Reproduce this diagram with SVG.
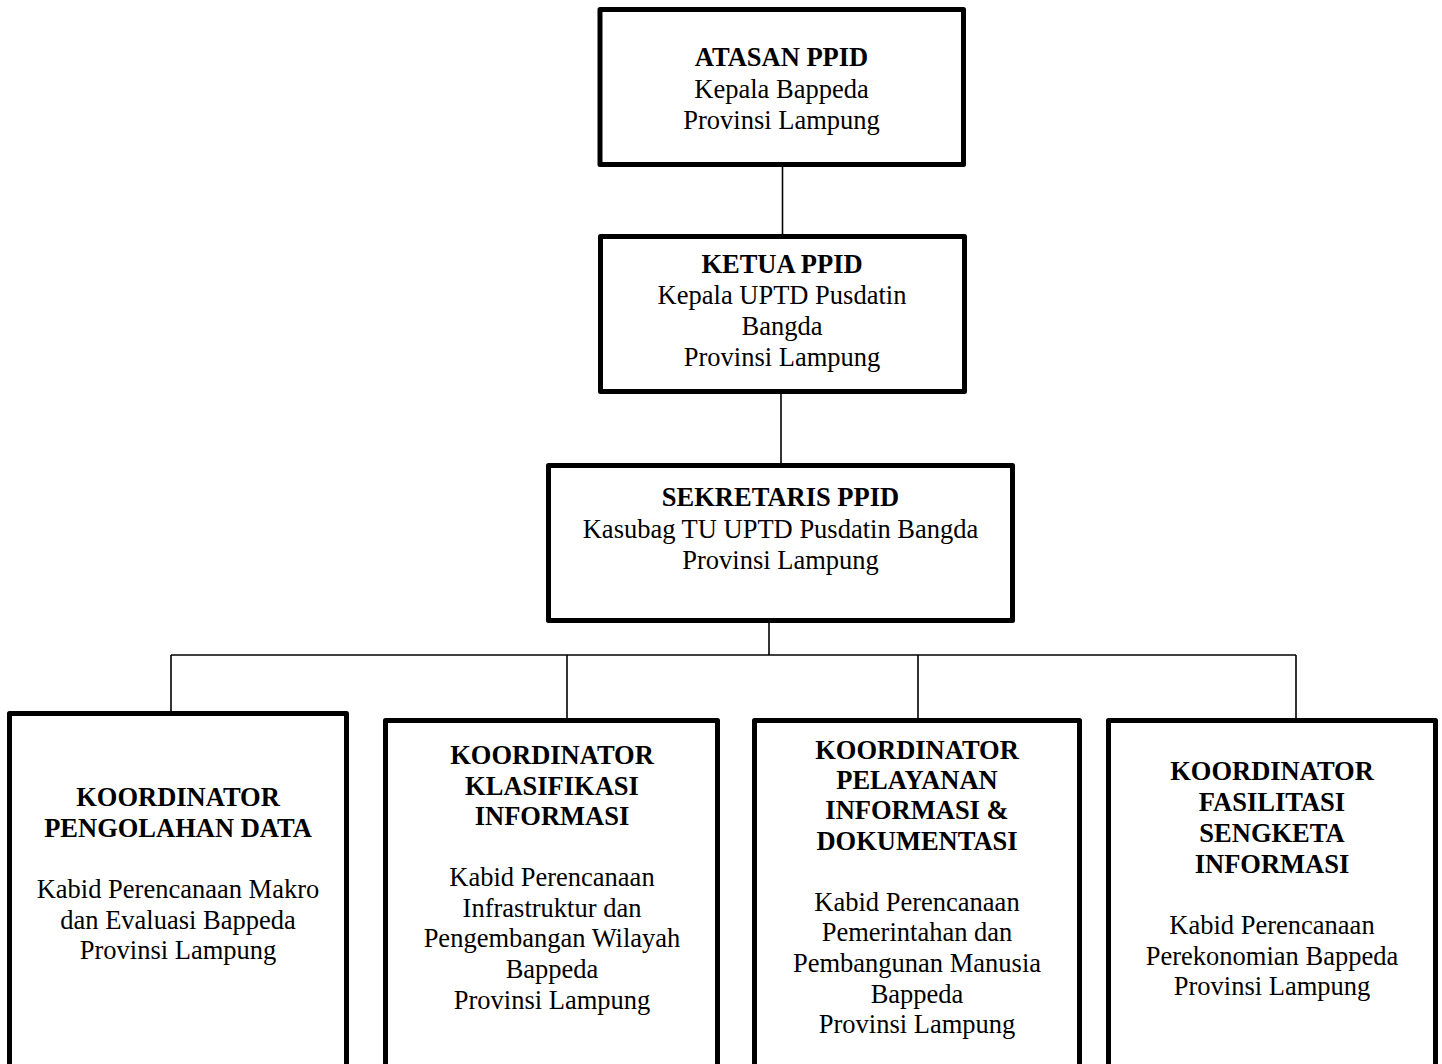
<svg xmlns="http://www.w3.org/2000/svg" width="1442" height="1064" viewBox="0 0 1442 1064">
<style>
.box{fill:#fff;stroke:#000;stroke-width:5;stroke-linejoin:round}
.ln{stroke:#000;stroke-width:1.6;fill:none}
text{font-family:"Liberation Serif","Times New Roman",serif;font-size:26.5px;fill:#000;text-anchor:middle}
.b{font-weight:bold}
</style>
<rect width="1442" height="1064" fill="#fff"/>
<g id="connectors">
<line class="ln" x1="782.5" y1="166" x2="782.5" y2="235"/>
<line class="ln" x1="781" y1="393" x2="781" y2="464"/>
<line class="ln" x1="769" y1="622" x2="769" y2="655"/>
<line class="ln" x1="171" y1="655" x2="1296" y2="655"/>
<line class="ln" x1="171" y1="655" x2="171" y2="712"/>
<line class="ln" x1="567" y1="655" x2="567" y2="719"/>
<line class="ln" x1="918" y1="655" x2="918" y2="719"/>
<line class="ln" x1="1296" y1="655" x2="1296" y2="719"/>
</g>
<g id="atasan">
<rect class="box" x="600" y="9.5" width="363.5" height="155"/>
<text class="b" x="781.5" y="66">ATASAN PPID</text>
<text x="781.5" y="97.5">Kepala Bappeda</text>
<text x="781.5" y="129">Provinsi Lampung</text>
</g>
<g id="ketua">
<rect class="box" x="600.5" y="236.5" width="364" height="155"/>
<text class="b" x="782" y="273">KETUA PPID</text>
<text x="782" y="303.5">Kepala UPTD Pusdatin</text>
<text x="782" y="334.5">Bangda</text>
<text x="782" y="365.5">Provinsi Lampung</text>
</g>
<g id="sekretaris">
<rect class="box" x="548.5" y="465.5" width="464" height="155"/>
<text class="b" x="780.5" y="506">SEKRETARIS PPID</text>
<text x="780.5" y="538">Kasubag TU UPTD Pusdatin Bangda</text>
<text x="780.5" y="569">Provinsi Lampung</text>
</g>
<g id="koord-pengolahan">
<rect class="box" x="9.5" y="713.5" width="337" height="380"/>
<text class="b" x="178" y="806">KOORDINATOR</text>
<text class="b" x="178" y="837">PENGOLAHAN DATA</text>
<text x="178" y="898">Kabid Perencanaan Makro</text>
<text x="178" y="928.5">dan Evaluasi Bappeda</text>
<text x="178" y="959">Provinsi Lampung</text>
</g>
<g id="koord-klasifikasi">
<rect class="box" x="385.5" y="720.5" width="332" height="380"/>
<text class="b" x="552" y="764">KOORDINATOR</text>
<text class="b" x="552" y="795">KLASIFIKASI</text>
<text class="b" x="552" y="825">INFORMASI</text>
<text x="552" y="886">Kabid Perencanaan</text>
<text x="552" y="917">Infrastruktur dan</text>
<text x="552" y="947">Pengembangan Wilayah</text>
<text x="552" y="978">Bappeda</text>
<text x="552" y="1008.5">Provinsi Lampung</text>
</g>
<g id="koord-pelayanan">
<rect class="box" x="754.5" y="720.5" width="325" height="380"/>
<text class="b" x="917" y="758.5">KOORDINATOR</text>
<text class="b" x="917" y="789">PELAYANAN</text>
<text class="b" x="917" y="819">INFORMASI &amp;</text>
<text class="b" x="917" y="850">DOKUMENTASI</text>
<text x="917" y="910.5">Kabid Perencanaan</text>
<text x="917" y="941">Pemerintahan dan</text>
<text x="917" y="972">Pembangunan Manusia</text>
<text x="917" y="1002.5">Bappeda</text>
<text x="917" y="1032.5">Provinsi Lampung</text>
</g>
<g id="koord-fasilitasi">
<rect class="box" x="1108.5" y="720.5" width="327" height="380"/>
<text class="b" x="1272" y="779.5">KOORDINATOR</text>
<text class="b" x="1272" y="811">FASILITASI</text>
<text class="b" x="1272" y="842">SENGKETA</text>
<text class="b" x="1272" y="872.5">INFORMASI</text>
<text x="1272" y="933.5">Kabid Perencanaan</text>
<text x="1272" y="964.5">Perekonomian Bappeda</text>
<text x="1272" y="995">Provinsi Lampung</text>
</g>
</svg>
